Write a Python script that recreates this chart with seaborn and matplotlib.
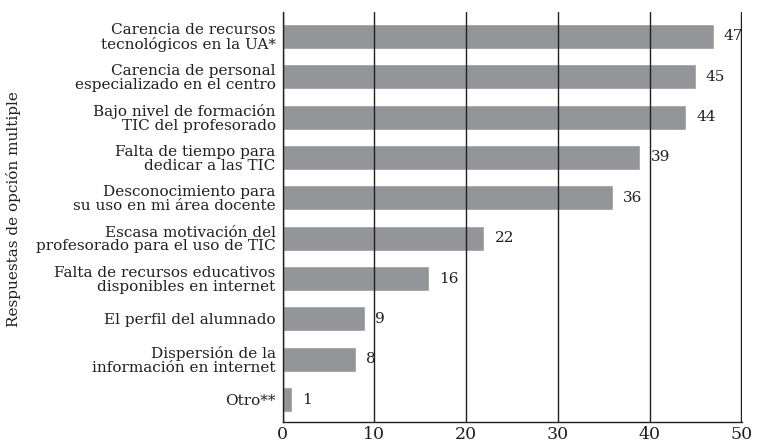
import pandas as pd
from matplotlib import pyplot as plt
import seaborn as sb

# data
categories = [
    "Carencia de recursos\ntecnológicos en la UA*",
    "Carencia de personal\nespecializado en el centro",
    "Bajo nivel de formación\nTIC del profesorado",
    "Falta de tiempo para\ndedicar a las TIC",
    "Desconocimiento para\nsu uso en mi área docente",
    "Escasa motivación del\nprofesorado para el uso de TIC",
    "Falta de recursos educativos\ndisponibles en internet",
    "El perfil del alumnado",
    "Dispersión de la\ninformación en internet",
    "Otro**",
]
values = [47, 45, 44, 39, 36, 22, 16, 9, 8, 1]
xticks = [0, 10, 20, 30, 40, 50]

df = pd.DataFrame({"respuesta": categories, "valor": values})

sb.set_style("white")
plt.rcParams['font.family'] = ['DejaVu Serif']

ink = "#231f20"

fig = plt.figure(figsize=(7.68, 4.46), dpi=100)
ax = fig.add_axes([0.368, 0.054, 0.598, 0.919])

sb.barplot(data=df, x="valor", y="respuesta", color="#939598", width=0.62,
           saturation=1, ax=ax, zorder=1)

# value labels next to each bar
for i, v in enumerate(values):
    ax.text(v + 1.1, i, str(v), va="center", ha="left", fontsize=11, color=ink)

ax.set_xlim(0, 50.05)
ax.set_ylim(9.55, -0.6)
ax.set_xticks(xticks)
ax.set_xticklabels([str(t) for t in xticks], fontsize=12.5, color=ink)
ax.tick_params(axis="y", labelsize=11, length=0, pad=5, labelcolor=ink)
ax.tick_params(axis="x", length=0, pad=3)
for lbl in ax.get_yticklabels():
    lbl.set_linespacing(0.98)

ax.xaxis.grid(True, color=ink, linewidth=1.0, zorder=2)
ax.yaxis.grid(False)
ax.set_axisbelow(False)

for s in ["top", "right"]:
    ax.spines[s].set_visible(False)
for s in ["left", "bottom"]:
    ax.spines[s].set_color(ink)
    ax.spines[s].set_linewidth(1.0)

ax.set_xlabel("")
ax.set_ylabel("Respuestas de opción multiple", fontsize=11, color=ink)
ax.yaxis.set_label_coords(-0.57, 0.52)

plt.savefig("out.png", dpi=100)
